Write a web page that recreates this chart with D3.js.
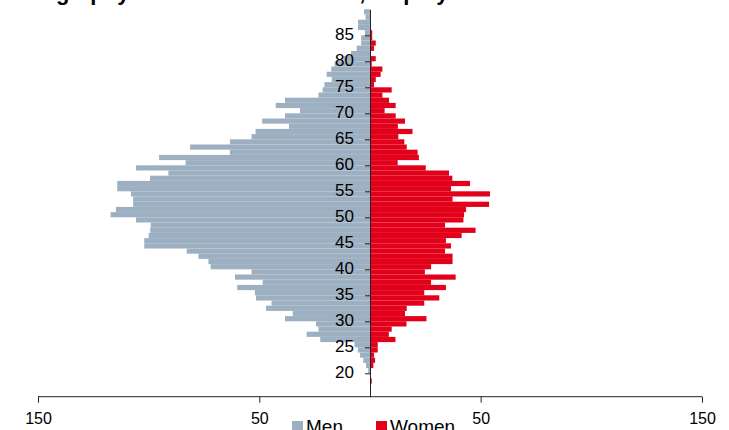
<!DOCTYPE html>
<html>
<head>
<meta charset="utf-8">
<script src="https://cdn.jsdelivr.net/npm/d3@7"></script>
<style>
body { margin: 0; background: #fff; }
svg text { font-family: "Liberation Sans", Arial, Helvetica, sans-serif; }
</style>
</head>
<body>
<div id="chart"></div>
<script>
// ages 18..89, one bar per year
var ages = d3.range(18, 90);
var men = [0, 0, 0.8, 1.8, 3, 4.5, 5.5, 7, 22.5, 28.6,
  23.3, 24.4, 38.4, 34.9, 47, 44.5, 51.5, 52, 60, 48.5,
  61, 53.5, 72, 73, 77.5, 82.8, 102, 102, 100, 99.3,
  99.1, 105.7, 117.2, 114.8, 107, 107, 108, 114.2, 114.2, 99.4,
  91.1, 105.7, 83.3, 95.3, 63.3, 81.3, 63.3, 53.5, 51.7, 36.6,
  48.7, 38.4, 31.6, 42.6, 38.4, 23.3, 21.4, 20.6, 17.3, 19.6,
  17.5, 16, 12, 8.6, 6, 4, 4, 2.3, 5.4, 5.4,
  2, 2.7];
var women = [0.8, 0, 0, 1.5, 2.3, 1.8, 3.5, 3.5, 11.5, 8.5,
  9.8, 16.5, 25.5, 15.8, 16.6, 24.5, 31.3, 24.5, 34.3, 27.6,
  38.7, 24.8, 27.6, 37.3, 37.3, 33.9, 36.6, 34.3, 41.4, 47.7,
  33.9, 42.2, 42.5, 43.4, 53.8, 37.3, 54.2, 36.6, 45.2, 37.2,
  35.7, 25.2, 12.5, 22.1, 21.5, 16.6, 15.5, 12.8, 19.2, 12.6,
  15.8, 11.6, 6.6, 11.6, 8.6, 5.6, 9.8, 1.8, 2.6, 4.8,
  5.6, 0.8, 2.6, 0.3, 1.8, 2.6, 1, 1, 0, 0,
  0, 0];
var ageTicks = [20, 25, 30, 35, 40, 45, 50, 55, 60, 65, 70, 75, 80, 85];
var xTicks = [-150, -50, 50, 150];
var seriesNames = ["Men", "Women"];
var colors = ["#9db0c2", "#e2001a"];
var title = "Demography of the total workforce, employees";

var width = 729, height = 430;
var svg = d3.select("#chart").append("svg").attr("width", width).attr("height", height);

var x = d3.scaleLinear().domain([-150, 150]).range([38, 702]);
var y = d3.scaleLinear().domain([90, 15.5]).range([9.3, 396.7]);

// title sits mostly above the top edge, as in the source
svg.append("text").attr("x", -5).attr("y", 0)
  .attr("font-size", 22).attr("font-weight", "bold").attr("fill", "#000")
  .text(title);

var rows = ages.map(function(a, i) { return {age: a, m: men[i], w: women[i]}; });

svg.append("g").selectAll("rect").data(rows).enter().append("rect")
  .attr("x", function(d) { return x(-d.m); })
  .attr("y", function(d) { return y(d.age + 1); })
  .attr("width", function(d) { return x(0) - x(-d.m); })
  .attr("height", function(d) { return y(d.age) - y(d.age + 1); })
  .attr("fill", colors[0]);

svg.append("g").selectAll("rect").data(rows).enter().append("rect")
  .attr("x", x(0))
  .attr("y", function(d) { return y(d.age + 1); })
  .attr("width", function(d) { return x(d.w) - x(0); })
  .attr("height", function(d) { return y(d.age) - y(d.age + 1); })
  .attr("fill", colors[1]);

// x axis
var xAxis = svg.append("g").attr("transform", "translate(0," + y(15.5) + ")")
  .call(d3.axisBottom(x).tickValues(xTicks).tickSize(6).tickPadding(10)
    .tickFormat(function(d) { return Math.abs(d); }));
xAxis.select(".domain").attr("d", "M" + x(-150) + ",0H" + x(150)).attr("stroke", "#222");
xAxis.selectAll(".tick line").attr("stroke", "#222");
xAxis.selectAll("text").attr("font-size", 16).attr("fill", "#000")
  .attr("font-family", "Liberation Sans, Arial, sans-serif");

// y axis at 0
var yAxis = svg.append("g").attr("transform", "translate(" + x(0) + ",0)")
  .call(d3.axisLeft(y).tickValues(ageTicks).tickSize(5).tickPadding(11).tickSizeOuter(0));
yAxis.select(".domain").attr("stroke", "#222");
yAxis.selectAll(".tick line").attr("stroke", "#222");
yAxis.selectAll("text").attr("font-size", 17).attr("fill", "#000").attr("dy", "0.22em")
  .attr("font-family", "Liberation Sans, Arial, sans-serif");

// legend
var legend = svg.append("g");
var legX = [292, 376];
seriesNames.forEach(function(n, i) {
  legend.append("rect").attr("x", legX[i]).attr("y", 421).attr("width", 11).attr("height", 11)
    .attr("fill", colors[i]);
  legend.append("text").attr("x", legX[i] + 14).attr("y", 433)
    .attr("font-size", 19).attr("fill", "#000").text(n);
});
</script>
</body>
</html>
